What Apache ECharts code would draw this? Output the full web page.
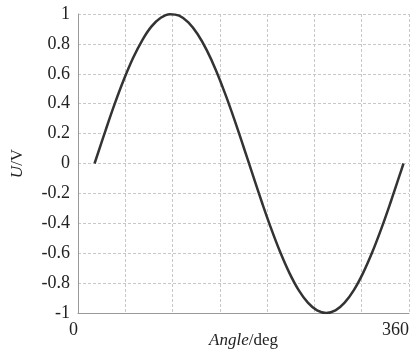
<!DOCTYPE html>
<html><head><meta charset="utf-8">
<script src="https://cdn.jsdelivr.net/npm/echarts@6/dist/echarts.min.js"></script>
<style>html,body{margin:0;padding:0;background:#fff}#c{width:415px;height:352px}</style>
</head><body><div id="c"></div>
<script>
var angles = [18,30,40,50,60,70,80,90,100,110,120,130,140,150,160,170,180,190,200,210,220,230,240,250,260,270,280,290,300,310,320,330,340,350,354];
var voltage = [0,0.222,0.400,0.563,0.707,0.826,0.917,0.975,0.999,0.989,0.944,0.866,0.758,0.624,0.467,0.295,0.112,-0.075,-0.259,-0.434,-0.594,-0.733,-0.847,-0.931,-0.983,-1.0,-0.983,-0.931,-0.847,-0.733,-0.594,-0.434,-0.259,-0.075,0];
var xTickLabels = ['0','360'];
var yTicks = [-1,-0.8,-0.6,-0.4,-0.2,0,0.2,0.4,0.6,0.8,1];

var data = angles.map(function(a,i){return [a, voltage[i]];});
var font = '"Liberation Serif", "DejaVu Serif", serif';
var chart = echarts.init(document.getElementById('c'));
chart.setOption({
  animation:false,
  backgroundColor:'#fff',
  grid:{left:78,right:6,top:14,bottom:39,containLabel:false,outerBoundsMode:'none'},
  xAxis:{
    type:'value', min:0, max:360, interval:360/7,
    axisLine:{show:true,onZero:false,lineStyle:{color:'#999',width:1}},
    axisTick:{show:false},
    splitLine:{show:true,lineStyle:{color:'#c8c8c8',type:[3,2],width:1}},
    axisLabel:{
      fontFamily:font,fontSize:18,color:'#222',align:'right',margin:8,
      showMaxLabel:true,showMinLabel:true,
      formatter:function(v){ if(Math.abs(v)<1e-6) return xTickLabels[0]; if(Math.abs(v-360)<1e-6) return xTickLabels[1]; return ''; }
    },
    name:'{i|Angle}{n|/deg}', nameLocation:'middle', nameGap:19, nameMoveOverlap:false,
    nameTextStyle:{rich:{i:{fontFamily:font,fontSize:17,fontStyle:'italic',color:'#222'},n:{fontFamily:font,fontSize:17,color:'#222'}}}
  },
  yAxis:{
    type:'value', min:-1, max:1, interval:0.2,
    axisLine:{show:true,onZero:false,lineStyle:{color:'#999',width:1}},
    axisTick:{show:false},
    splitLine:{show:true,lineStyle:{color:'#c8c8c8',type:[3,2],width:1}},
    axisLabel:{fontFamily:font,fontSize:18,color:'#222',margin:8,
      formatter:function(v){ var r=Math.round(v*10)/10; for(var k=0;k<yTicks.length;k++){ if(Math.abs(yTicks[k]-r)<1e-6) return String(yTicks[k]); } return ''; }},
    name:'{i|U}{n|/V}', nameLocation:'middle', nameGap:52, nameRotate:90, nameMoveOverlap:false,
    nameTextStyle:{rich:{i:{fontFamily:font,fontSize:17,fontStyle:'italic',color:'#222'},n:{fontFamily:font,fontSize:17,color:'#222'}}}
  },
  series:[{
    type:'line', data:data, smooth:0.4, showSymbol:false,
    lineStyle:{color:'#333',width:2.5}
  }]
});
</script></body></html>
